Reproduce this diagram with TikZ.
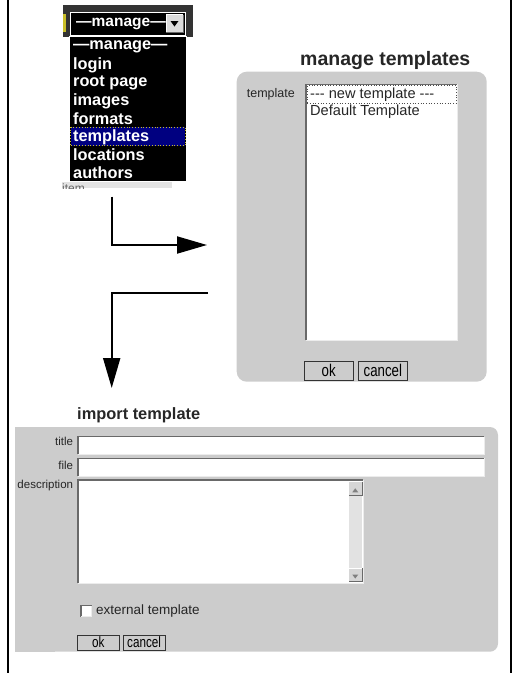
\documentclass[tikz,border=0pt]{standalone}
\usepackage{fontspec}
\setmainfont{Liberation Sans}
\newfontfamily\narrowfont[FakeStretch=0.78]{Liberation Sans}
\usetikzlibrary{arrows.meta}
\definecolor{panelgray}{RGB}{204,204,204}
\definecolor{darkstrip}{RGB}{51,51,51}
\definecolor{navy}{RGB}{0,0,128}
\definecolor{bevel}{RGB}{105,105,105}
\definecolor{bevellight}{RGB}{236,236,236}
\definecolor{track}{RGB}{226,226,226}
\definecolor{iconyellow}{RGB}{200,190,40}
\newcommand\fs[1]{\fontsize{#1}{#1}\selectfont}
% sunken border of an input field
\newcommand\fieldbevel[1]{%
  \draw[bevel,line width=1.5pt] (#1.south west) -- (#1.north west) -- (#1.north east);
  \draw[bevellight,line width=1pt] (#1.north east) -- (#1.south east) -- (#1.south west);}
% raised border of a small button
\newcommand\raisedbevel[1]{%
  \draw[white,line width=1pt] (#1.south west) -- (#1.north west) -- (#1.north east);
  \draw[bevel,line width=1pt] (#1.north east) -- (#1.south east) -- (#1.south west);}
\begin{document}
\begin{tikzpicture}[x=1pt,y=-1pt,
  box/.style={anchor=north west, inner sep=0pt, outer sep=0pt},
  panel/.style={box, fill=panelgray, draw=none},
  field/.style={box, fill=white},
  menuitem/.style={anchor=west, inner sep=0pt, text=white, font=\bfseries\fs{16.3}},
  lbl/.style={inner sep=0pt},
  btn/.style={box, fill=panelgray, draw=black!80, line width=0.8pt},
  flow/.style={line width=2pt, -{Triangle[length=30pt,width=17pt]}},
  frameline/.style={line width=2pt}
]
\useasboundingbox (0,0) rectangle (514,673);

% side rules
\coordinate (fl1) at (8,0);   \coordinate (fl2) at (8,673);
\coordinate (fr1) at (511,0); \coordinate (fr2) at (511,673);
\draw[frameline] (fl1) -- (fl2);
\draw[frameline] (fr1) -- (fr2);

% ---- drop-down menu ----
\node[box, fill=darkstrip, minimum width=130, minimum height=32] (strip) at (63,5) {};
\node[box, fill=iconyellow, minimum width=3, minimum height=18] (icon) at (63,14) {};
\node[box, fill=black, draw=white, line width=0.8pt, minimum width=115, minimum height=23] (select) at (70,12) {};
\node[menuitem, font=\bfseries\fs{15.5}] (selecttxt) at (76,24) {—manage—};
\node[box, fill=panelgray!70!white, minimum width=17, minimum height=18] (dropbtn) at (166,14.5) {};
\raisedbevel{dropbtn}
\fill[black] (170.5,21) -- (178.5,21) -- (174.5,26.5) -- cycle;

\node[box, fill=gray!22, minimum width=109.7, minimum height=6.3] (below) at (62,181.7) {};
\begin{scope}
  \clip (62,181.7) rectangle (171.7,188);
  \node[anchor=north west, inner sep=0pt, font=\fs{12}, text=black!60] (belowtxt) at (62,184) {item};
\end{scope}
\node[box, fill=black, draw=white, line width=0.8pt, minimum width=117, minimum height=145.7] (menulist) at (69,36) {};
\node[box, fill=navy, draw=iconyellow, dotted, line width=0.8pt, minimum width=114.3, minimum height=18.4] (hl) at (70.7,127.3) {};
\foreach \t [count=\i] in {—manage—,login,root page,images,formats,templates,locations,authors}
  \node[menuitem] (item\i) at (73,{47+18*(\i-1)}) {\t};

% ---- connectors ----
\coordinate (a1s) at (111.7,196.7);
\coordinate (a1e) at (207,245);
\draw[flow] (a1s) |- (a1e);
\coordinate (a2s) at (208,293.3);
\coordinate (a2e) at (111.7,388);
\draw[flow] (a2s) -| (a2e);

% ---- manage templates ----
\node[anchor=west, inner sep=0pt, font=\bfseries\fs{19.5}, text=black!85] (mtitle) at (300,60.7) {manage templates};
\node[panel, rounded corners=10pt, minimum width=250, minimum height=310] (mpanel) at (236.7,71.7) {};
\node[lbl, anchor=west, font=\fs{12.5}, text=black!85] (mlabel) at (246.7,94) {template};
\node[field, minimum width=151.3, minimum height=255.7] (mlist) at (306,84.3) {};
\fieldbevel{mlist}
\node[box, draw=black!70, dotted, line width=0.7pt, minimum width=149, minimum height=17.5] (mfocus) at (307.2,85.5) {};
\node[anchor=west, inner sep=0pt, font=\fs{14.6}, text=black!85] (mopt1) at (310,95) {{-}{-}{-} new template {-}{-}{-}};
\node[anchor=west, inner sep=0pt, font=\fs{14.6}, text=black!85] (mopt2) at (310,112) {Default Template};
\node[btn, minimum width=49.3, minimum height=18.3, font=\narrowfont\fs{17}] (mok) at (304,361.7) {ok};
\node[btn, minimum width=49, minimum height=18.3, font=\narrowfont\fs{17}] (mcancel) at (358.3,361.7) {cancel};

% ---- import template ----
\node[anchor=west, inner sep=0pt, font=\bfseries\fs{16.4}, text=black!85] (ititle) at (77,415.7) {import template};
\node[panel, rounded corners=8pt, minimum width=483, minimum height=224.7] (ipanel) at (15,427) {};
\node[panel, minimum width=40, minimum height=224.7] (ipanelleft) at (15,427) {};
\node[lbl, anchor=east, font=\fs{11.5}, text=black!85] (ltitle) at (73.3,441.7) {title};
\node[lbl, anchor=east, font=\fs{11.5}, text=black!85] (lfile) at (73.3,465) {file};
\node[lbl, anchor=east, font=\fs{11.5}, text=black!85] (ldesc) at (73.3,486) {description};
\node[field, minimum width=406.3, minimum height=17.3] (ftitle) at (78,436.7) {};
\fieldbevel{ftitle}
\node[field, minimum width=406.3, minimum height=17.7] (ffile) at (78,458.3) {};
\fieldbevel{ffile}
\node[field, minimum width=285.3, minimum height=103.3] (fdesc) at (78,480) {};
\fieldbevel{fdesc}
\node[box, fill=track, minimum width=13.7, minimum height=100.5] (sbar) at (348.5,481.5) {};
\node[box, fill=panelgray!80!white, minimum width=13.5, minimum height=13.5] (scrollup) at (348.5,481.5) {};
\raisedbevel{scrollup}
\fill[gray] ([yshift=-2.5pt]scrollup.center) ++(-3,1.5) -- ++(6,0) -- ++(-3,-4) -- cycle;
\node[box, fill=panelgray!80!white, minimum width=13.5, minimum height=13.5] (scrolldn) at (348.5,568.3) {};
\raisedbevel{scrolldn}
\fill[gray] ([yshift=-1pt]scrolldn.center) ++(-3,-1.5) -- ++(6,0) -- ++(-3,4) -- cycle;

\node[field, minimum width=10.7, minimum height=11] (chk) at (81,605.7) {};
\fieldbevel{chk}
\node[anchor=west, inner sep=0pt, font=\fs{13.5}, text=black!85] (chktxt) at (96,610.7) {external template};
\node[btn, minimum width=41.3, minimum height=15, font=\narrowfont\fs{15}] (iok) at (77.7,635) {ok};
\node[btn, minimum width=41.7, minimum height=15, font=\narrowfont\fs{15}] (icancel) at (123.3,635) {cancel};
\end{tikzpicture}
\end{document}
